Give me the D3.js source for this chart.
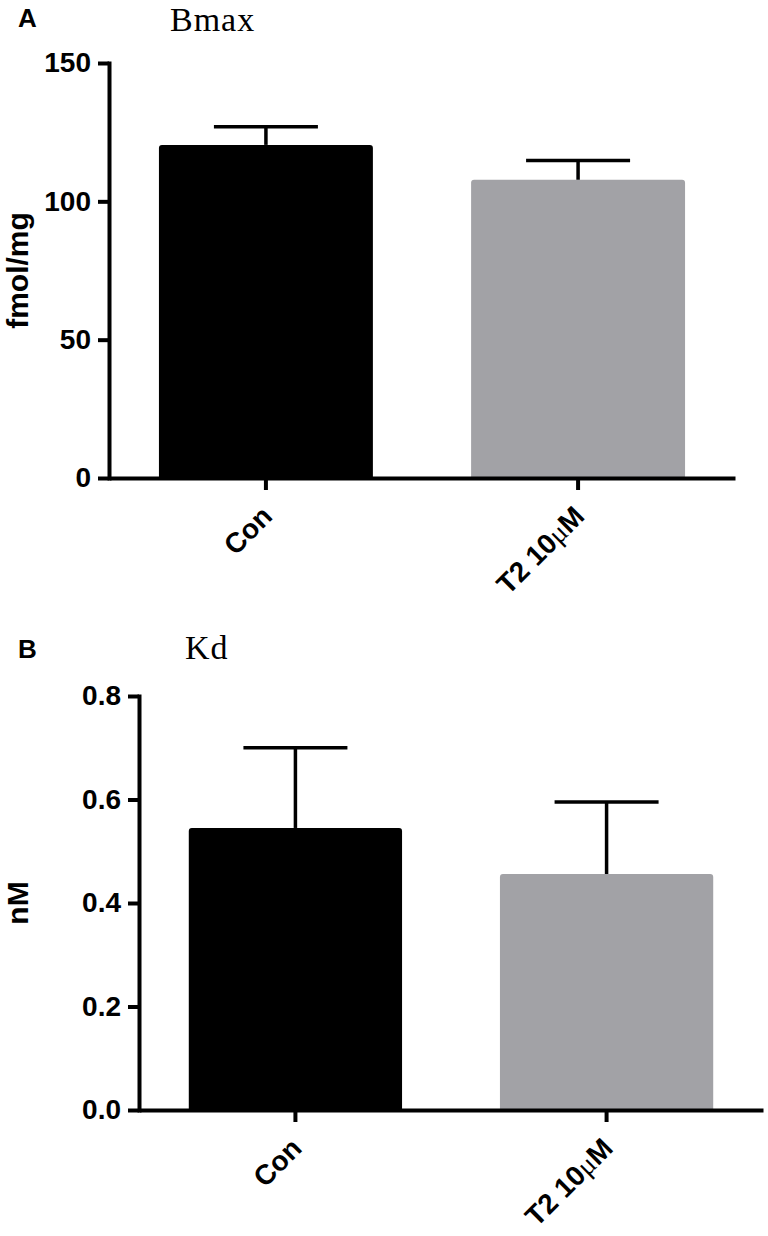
<!DOCTYPE html>
<html>
<head>
<meta charset="utf-8">
<script src="https://cdn.jsdelivr.net/npm/d3@7"></script>
<style>
  html, body { margin: 0; padding: 0; background: #fff; }
  svg { display: block; }
</style>
</head>
<body>
<svg id="chart" width="768" height="1236"></svg>
<script>
// ---- Data ----
const categories = ["Con", "T2 10μM"];
const barColors = ["#000000", "#a2a2a6"];

const bmaxMean = [120.4, 107.8];
const bmaxSem = [6.6, 7.0];
const bmaxTicks = [0, 50, 100, 150];

const kdMean = [0.545, 0.456];
const kdSem = [0.155, 0.139];
const kdTicks = [0, 0.2, 0.4, 0.6, 0.8];

const svg = d3.select("#chart");
svg.append("rect").attr("width", 768).attr("height", 1236).attr("fill", "#fff");

const SANS = "'Liberation Sans', Arial, Helvetica, sans-serif";
const SERIF = "'Liberation Serif', 'Times New Roman', serif";

function drawPanel(cfg) {
  const g = svg.append("g");
  const y = d3.scaleLinear().domain(cfg.domain).range([cfg.y0, cfg.yTop]);
  const x = d3.scaleBand().domain(categories)
    .range([cfg.xLeft, cfg.xRight]).paddingInner(0.3146).paddingOuter(0.16);

  // bars
  g.selectAll("path.bar").data(categories).enter().append("path")
    .attr("class", "bar")
    .attr("fill", (d, i) => barColors[i])
    .attr("d", (d, i) => {
      const x0 = x(d), x1 = x(d) + x.bandwidth();
      const yt = y(cfg.mean[i]), yb = y(0);
      const r = 3;
      return `M${x0},${yb}L${x0},${yt + r}Q${x0},${yt} ${x0 + r},${yt}` +
             `L${x1 - r},${yt}Q${x1},${yt} ${x1},${yt + r}L${x1},${yb}Z`;
    });

  // error bars
  const capW = 104;
  categories.forEach((d, i) => {
    const cx = x(d) + x.bandwidth() / 2;
    const yt = y(cfg.mean[i]);
    const ye = y(cfg.mean[i] + cfg.sem[i]);
    g.append("line").attr("x1", cx).attr("x2", cx).attr("y1", yt).attr("y2", ye)
      .attr("stroke", "#000").attr("stroke-width", 3.5);
    g.append("line").attr("x1", cx - capW / 2).attr("x2", cx + capW / 2)
      .attr("y1", ye).attr("y2", ye)
      .attr("stroke", "#000").attr("stroke-width", 3.5);
  });

  // y axis
  const yAxis = d3.axisLeft(y).tickValues(cfg.ticks).tickFormat(cfg.fmt)
    .tickSize(11).tickSizeOuter(0).tickPadding(7);
  const ya = g.append("g").attr("transform", `translate(${cfg.xLeft},0)`).call(yAxis);
  ya.select(".domain").attr("stroke-width", 4).attr("stroke-linecap", "square");
  ya.selectAll(".tick line").attr("stroke-width", 4);
  ya.selectAll(".tick text").attr("font-family", SANS).attr("font-weight", "bold")
    .attr("font-size", 28).attr("fill", "#000");

  // x axis
  const xAxis = d3.axisBottom(x).tickSize(12).tickSizeOuter(0).tickFormat("");
  const xa = g.append("g").attr("transform", `translate(0,${cfg.y0})`).call(xAxis);
  xa.select(".domain").attr("stroke-width", 4);
  xa.selectAll(".tick line").attr("stroke-width", 4);

  // rotated category labels
  categories.forEach((d, i) => {
    const tx = x(d) + x.bandwidth() / 2 + 8;
    const ty = cfg.y0 + 40;
    const t = g.append("text")
      .attr("transform", `translate(${tx},${ty}) rotate(-45)`)
      .attr("text-anchor", "end")
      .attr("font-family", SANS).attr("font-weight", "bold").attr("font-size", 28)
      .attr("fill", "#000");
    if (d.includes("μ")) {
      const parts = d.split("μ");
      t.append("tspan").text(parts[0]);
      t.append("tspan").attr("font-family", SERIF).attr("font-weight", "normal").text("μ");
      t.append("tspan").text(parts[1]);
    } else {
      t.text(d);
    }
  });

  // y label
  g.append("text")
    .attr("transform", `translate(28,${(cfg.y0 + cfg.yTop) / 2}) rotate(-90)`)
    .attr("text-anchor", "middle")
    .attr("font-family", SANS).attr("font-weight", "bold").attr("font-size", 30)
    .attr("fill", "#000").text(cfg.yLabel);

  // panel letter
  g.append("text").attr("x", 18).attr("y", cfg.letterY)
    .attr("font-family", SANS).attr("font-weight", "bold").attr("font-size", 26)
    .attr("fill", "#000").text(cfg.letter);

  // title
  g.append("text").attr("x", cfg.titleX).attr("y", cfg.titleY)
    .attr("font-family", SERIF).attr("font-size", 34)
    .attr("letter-spacing", 1)
    .attr("fill", "#000").text(cfg.title);
}

drawPanel({
  domain: [0, 150], y0: 478, yTop: 63, xLeft: 109, xRight: 735,
  mean: bmaxMean, sem: bmaxSem, ticks: bmaxTicks, fmt: d3.format("d"),
  yLabel: "fmol/mg", letter: "A", letterY: 27, title: "Bmax", titleX: 170, titleY: 31
});

drawPanel({
  domain: [0, 0.8], y0: 1110, yTop: 696, xLeft: 139, xRight: 763,
  mean: kdMean, sem: kdSem, ticks: kdTicks, fmt: d3.format(".1f"),
  yLabel: "nM", letter: "B", letterY: 658, title: "Kd", titleX: 185, titleY: 659
});
</script>
</body>
</html>
